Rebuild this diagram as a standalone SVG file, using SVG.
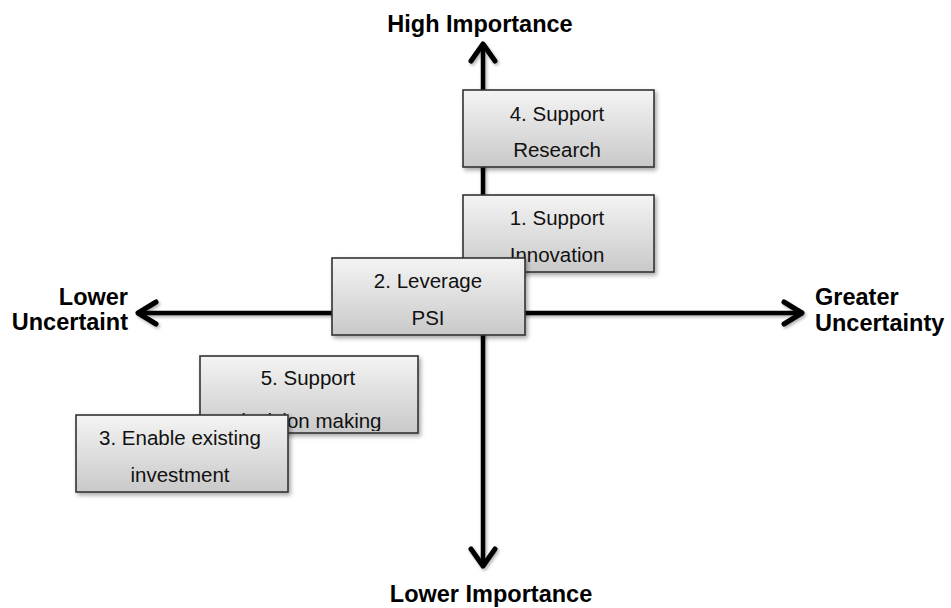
<svg xmlns="http://www.w3.org/2000/svg" width="951" height="608" viewBox="0 0 951 608">
  <style>
    .axis { stroke: #000; stroke-width: 4.5; fill: none; stroke-linecap: butt; }
    .head { stroke: #000; stroke-width: 5; fill: none; stroke-linecap: round; stroke-linejoin: round; }
    .box { fill: url(#boxGrad); stroke: #333; stroke-width: 1.6; filter: url(#shadow); }
    .btxt { font-family: "Liberation Sans", Arial, sans-serif; font-size: 20.5px; fill: #111; text-anchor: middle; }
    .lbl { font-family: "Liberation Sans", Arial, sans-serif; font-size: 23.5px; font-weight: bold; fill: #000; }
  </style>
  <defs>
    <linearGradient id="boxGrad" x1="0" y1="0" x2="0" y2="1">
      <stop offset="0" stop-color="#f4f4f4"/>
      <stop offset="1" stop-color="#c9c9c9"/>
    </linearGradient>
    <filter id="shadow" x="-10%" y="-10%" width="125%" height="130%">
      <feDropShadow dx="2" dy="2.5" stdDeviation="2" flood-color="#000" flood-opacity="0.35"/>
    </filter>
    <filter id="ashadow" x="-10%" y="-10%" width="130%" height="130%">
      <feDropShadow dx="1.5" dy="2" stdDeviation="1.5" flood-color="#000" flood-opacity="0.3"/>
    </filter>
    <clipPath id="clip5"><rect x="200" y="356" width="218" height="75"/></clipPath>
    <clipPath id="clip1"><rect x="463" y="195" width="191" height="77"/></clipPath>
  </defs>
  <rect width="951" height="608" fill="#fff"/>

  <g id="axes" filter="url(#ashadow)">
    <line class="axis" x1="483" y1="44" x2="483" y2="566"/>
    <line class="axis" x1="137" y1="313" x2="803" y2="313"/>
    <polyline class="head" points="471,61 483,44 495,61"/>
    <polyline class="head" points="471,549 483,566 495,549"/>
    <polyline class="head" points="156,302 138,313 156,324"/>
    <polyline class="head" points="784,302 802,313 784,324"/>
  </g>

  <g id="labels">
    <text class="lbl" x="480" y="32" text-anchor="middle">High Importance</text>
    <text class="lbl" x="491" y="602" text-anchor="middle">Lower Importance</text>
    <text class="lbl" x="128" y="305" text-anchor="end">Lower</text>
    <text class="lbl" x="128" y="330" text-anchor="end">Uncertaint</text>
    <text class="lbl" x="815" y="305">Greater</text>
    <text class="lbl" x="815" y="331">Uncertainty</text>
  </g>

  <g id="node4">
    <rect class="box" x="463" y="90" width="191" height="77"/>
    <text class="btxt" x="557" y="121">4. Support</text>
    <text class="btxt" x="557" y="157">Research</text>
  </g>
  <g id="node1">
    <rect class="box" x="463" y="195" width="191" height="77"/>
    <g clip-path="url(#clip1)">
      <text class="btxt" x="557" y="225">1. Support</text>
      <text class="btxt" x="557" y="262">Innovation</text>
    </g>
  </g>
  <g id="node2">
    <rect class="box" x="332" y="258" width="193" height="77"/>
    <text class="btxt" x="428" y="288">2. Leverage</text>
    <text class="btxt" x="428" y="325">PSI</text>
  </g>
  <g id="node5">
    <rect class="box" x="200" y="356" width="218" height="77"/>
    <g clip-path="url(#clip5)">
      <text class="btxt" x="308" y="385">5. Support</text>
      <text class="btxt" x="308" y="428">decision making</text>
    </g>
  </g>
  <g id="node3">
    <rect class="box" x="76" y="415" width="212" height="77"/>
    <text class="btxt" x="180" y="445">3. Enable existing</text>
    <text class="btxt" x="180" y="482">investment</text>
  </g>
</svg>
